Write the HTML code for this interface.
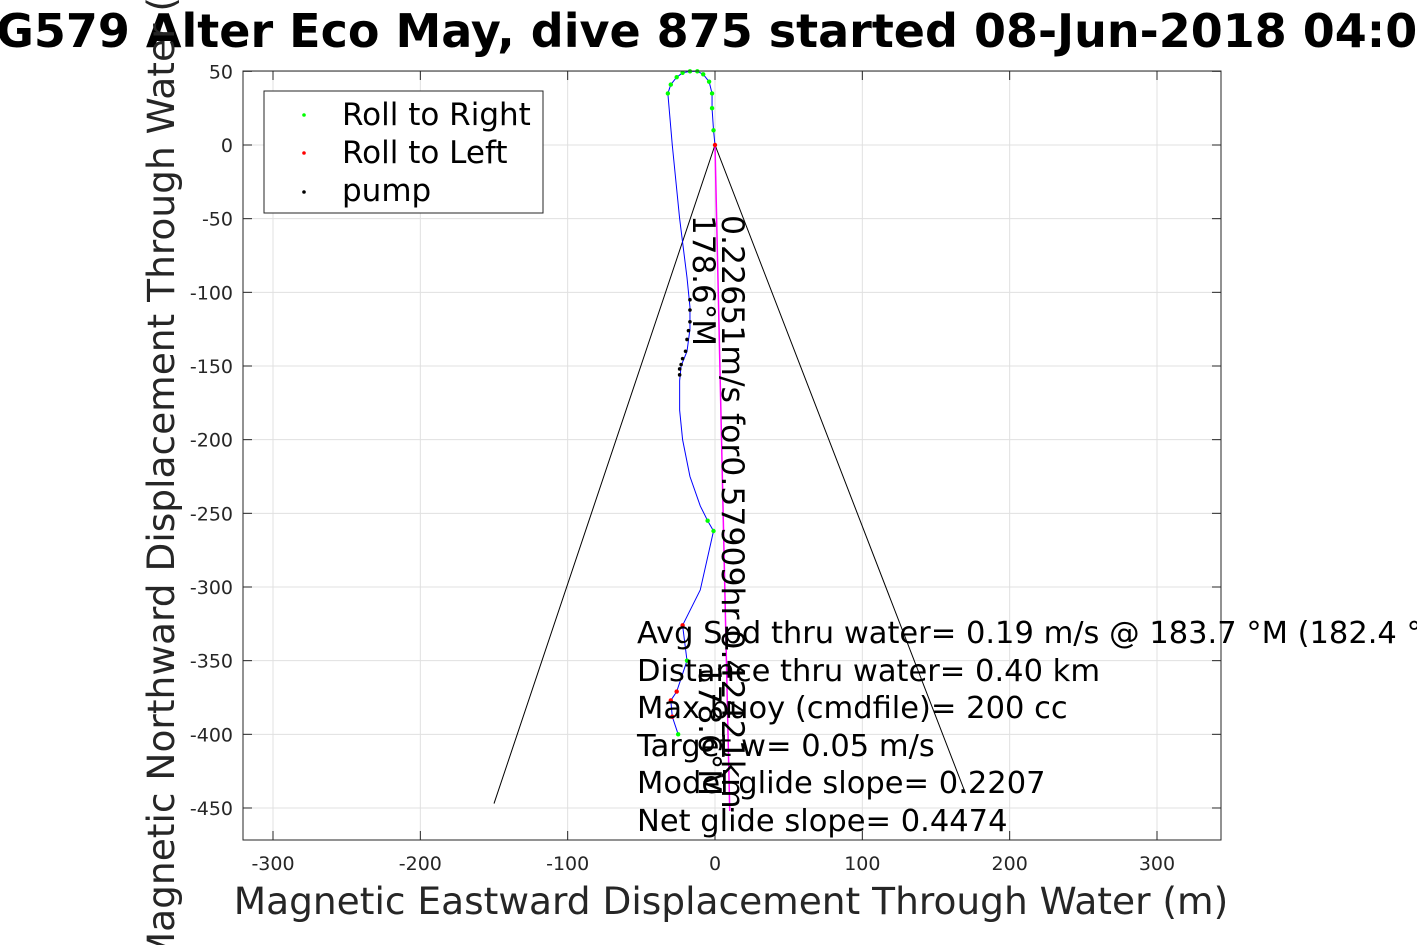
<!DOCTYPE html>
<html><head><meta charset="utf-8"><style>
html,body{margin:0;padding:0;background:#fff;width:1417px;height:945px;overflow:hidden}
svg{font-family:"DejaVu Sans","Liberation Sans",sans-serif}
</style></head><body>
<svg id="chart" width="1417" height="945" viewBox="0 0 1417 945">
<text x="-37" y="47" font-size="46" font-weight="bold">SG579 Alter Eco May, dive 875 started 08-Jun-2018 04:09</text>
<rect x="243" y="71" width="978" height="769" fill="#fff" stroke="none"/>
<g id="grid"></g>
<g id="marks"></g>
<rect x="243" y="71" width="978" height="769" fill="none" stroke="#262626" stroke-width="1"/>
<g id="ticks"></g>
<text x="731" y="914" font-size="37.5" fill="#262626" text-anchor="middle">Magnetic Eastward Displacement Through Water (m)</text>
<text transform="translate(174,455) rotate(-90)" font-size="37.5" fill="#262626" text-anchor="middle">Magnetic Northward Displacement Through Water (m)</text>
<g>
<rect x="264" y="91" width="279" height="122" fill="#fff" stroke="#262626"/>
<circle cx="304" cy="115" r="1.8" fill="#00ff00"/>
<text x="342" y="125" font-size="31">Roll to Right</text>
<circle cx="304" cy="153" r="1.8" fill="#ff0000"/>
<text x="342" y="163" font-size="31">Roll to Left</text>
<circle cx="304" cy="192" r="1.8" fill="#000"/>
<text x="342" y="201" font-size="31">pump</text>
</g>
<g font-size="30.5" style="white-space:pre">
<text x="637" y="643">Avg Spd thru water=  0.19 m/s @ 183.7 °M (182.4 °T)</text>
<text x="637" y="681">Distance thru water=  0.40 km</text>
<text x="637" y="718">Max buoy (cmdfile)= 200 cc</text>
<text x="637" y="756">Target w= 0.05 m/s</text>
<text x="637" y="793">Model glide slope= 0.2207</text>
<text x="637" y="831">Net glide slope= 0.4474</text>
</g>
<text transform="translate(722,215) rotate(90)" font-size="31.5">0.22651m/s for0.57909hr 0.42421km</text>
<text transform="translate(693,215) rotate(90)" font-size="31">178.6°M</text>
<text transform="translate(699,665) rotate(90)" font-size="31">178.6°M</text>
</svg>
<script>
const xTicks=[-300,-200,-100,0,100,200,300];
const yTicks=[50,0,-50,-100,-150,-200,-250,-300,-350,-400,-450];
const trackX=[0,-1,-2,-2,-4,-8,-12,-17,-22,-26,-30,-32,-29,-24,-19,-17,-17,-19,-23,-24,-24,-22,-17,-10,-5,-1,-10,-22,-19,-26,-30,-29,-25];
const trackY=[0,10,25,35,43,48,50,50,49,46,41,35,0,-50,-90,-110,-125,-140,-150,-160,-180,-200,-225,-245,-255,-262,-302,-326,-350,-371,-377,-388,-400];
const rightIdx=[1,2,3,4,5,6,7,8,9,10,11,24,25,28,32];
const leftIdx=[0,27,29,30,31];
const pumpX=[-17,-17,-17,-18,-19,-20,-22,-23,-24,-24];
const pumpY=[-105,-112,-120,-126,-132,-140,-145,-149,-152,-156];
const currentX=[0,10];
const currentY=[0,-452];
const coneX=[-150,0,170];
const coneY=[-447,0,-440];
const sx=v=>715+1.4733*v, sy=v=>145-1.4733*v;
const NS='http://www.w3.org/2000/svg';
function mk(t,a,p){const e=document.createElementNS(NS,t);for(const k in a)e.setAttribute(k,a[k]);p.appendChild(e);return e;}
const grid=document.getElementById('grid'),ticks=document.getElementById('ticks'),marks=document.getElementById('marks');
xTicks.forEach(v=>{
const g=mk('line',{x1:sx(v),x2:sx(v),y1:71,y2:840,stroke:'#e0e0e0'},grid);


const t=mk('line',{x1:sx(v),x2:sx(v),y1:71,y2:80,stroke:'#262626'},ticks);


const t2=mk('line',{x1:sx(v),x2:sx(v),y1:831,y2:840,stroke:'#262626'},ticks);


const l=mk('text',{x:sx(v),y:870,'font-size':19,fill:'#262626','text-anchor':'middle'},ticks);
l.textContent=v;


});
yTicks.forEach(v=>{
const g=mk('line',{x1:243,x2:1221,y1:sy(v),y2:sy(v),stroke:'#e0e0e0'},grid);


const t=mk('line',{x1:243,x2:252,y1:sy(v),y2:sy(v),stroke:'#262626'},ticks);


const t2=mk('line',{x1:1212,x2:1221,y1:sy(v),y2:sy(v),stroke:'#262626'},ticks);


const l=mk('text',{x:233,y:sy(v)+7,'font-size':19,fill:'#262626','text-anchor':'end'},ticks);
l.textContent=v;


});
const cone=mk('polyline',{points:coneX.map((x,i)=>sx(x)+','+sy(coneY[i])).join(' '),fill:'none',stroke:'#000','stroke-width':1},marks);


const cur=mk('polyline',{points:currentX.map((x,i)=>sx(x)+','+sy(currentY[i])).join(' '),fill:'none',stroke:'#ff00ff','stroke-width':1.5},marks);


let d='M'+sx(trackX[0])+','+sy(trackY[0]);
for(let i=1;i<trackX.length;i++){d+=' L'+sx(trackX[i])+','+sy(trackY[i]);}
const tr=mk('path',{d:d,fill:'none',stroke:'#0000ff','stroke-width':1,'stroke-linejoin':'round'},marks);


rightIdx.forEach(i=>{const c=mk('circle',{cx:sx(trackX[i]),cy:sy(trackY[i]),r:2.2,fill:'#00ff00'},marks);

});
leftIdx.forEach(i=>{const c=mk('circle',{cx:sx(trackX[i]),cy:sy(trackY[i]),r:2.2,fill:'#ff0000'},marks);

});
pumpX.forEach((x,i)=>{const c=mk('circle',{cx:sx(x),cy:sy(pumpY[i]),r:1.8,fill:'#000'},marks);

});
</script>
</body></html>
